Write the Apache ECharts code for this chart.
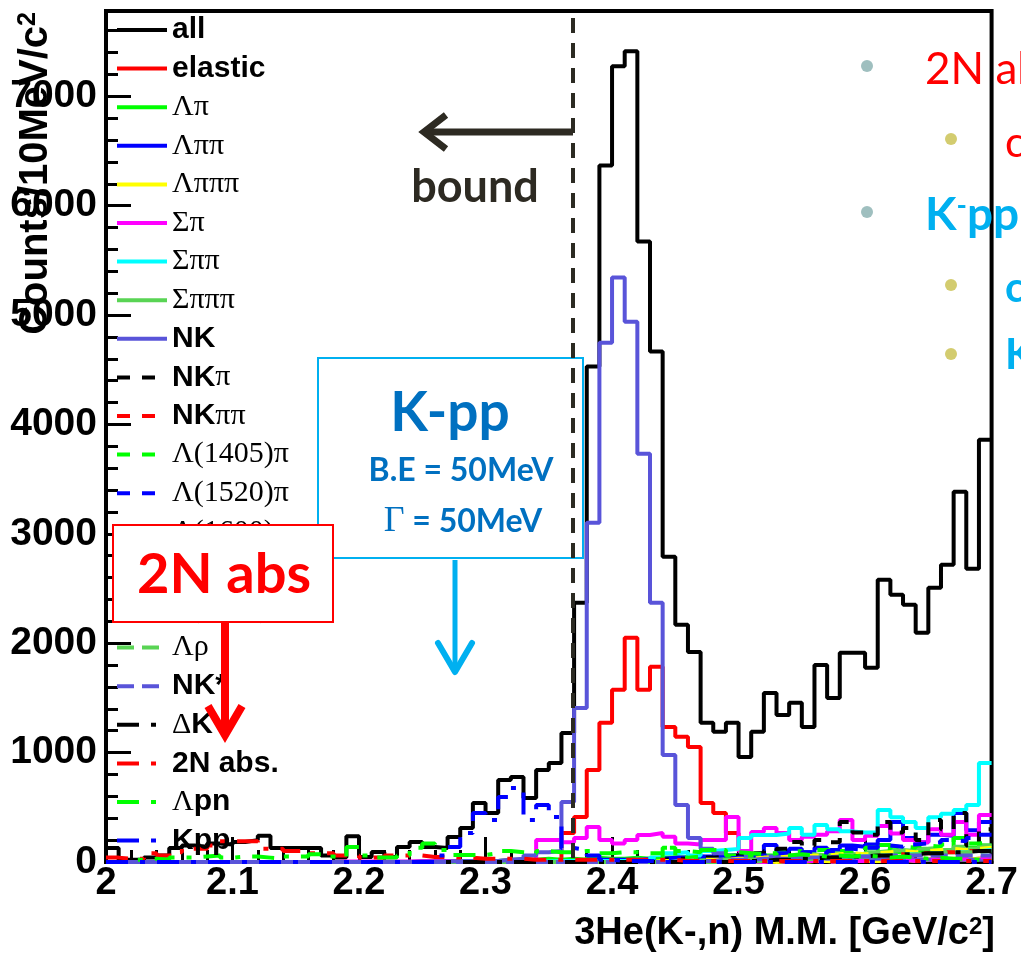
<!DOCTYPE html>
<html>
<head>
<meta charset="utf-8">
<title>3He(K-,n) M.M.</title>
<style>
  html, body { margin: 0; padding: 0; background: #fff; }
  #chart { width: 1021px; height: 956px; }
</style>
</head>
<body>
<div id="chart"></div>
<script src="https://cdn.jsdelivr.net/npm/echarts@6/dist/echarts.min.js"></script>
<script>
// 70 bins of 10 MeV between 2.00 and 2.70 GeV/c2
var binLow = 2.0, binWidth = 0.01, nBins = 70;
var xTicks = [2, 2.1, 2.2, 2.3, 2.4, 2.5, 2.6, 2.7];
var yTicks = [0, 1000, 2000, 3000, 4000, 5000, 6000, 7000];

var all = [
  128, 20, 20, 40, 60, 128, 150, 140, 170, 160,
  183, 200, 240, 128, 128, 128, 128, 60, 40, 235,
  46, 91, 46, 137, 183, 137, 128, 229, 311, 540,
  448, 750, 778, 586, 842, 906, 1180, 2370, 4530, 6368,
  7274, 7411, 5672, 4666, 2790, 2168, 1921, 1272, 1190, 1272,
  961, 1190, 1546, 1345, 1455, 1235, 1802, 1500, 1912, 1912,
  1775, 2580, 2443, 2351, 2095, 2507, 2717, 3385, 2680, 3860];
var elastic = [
  0, 0, 0, 0, 0, 0, 0, 0, 0, 0,
  0, 0, 0, 0, 0, 0, 0, 0, 0, 0,
  0, 0, 0, 0, 0, 0, 0, 0, 0, 0,
  0, 0, 0, 0, 10, 20, 265, 412, 842, 1272,
  1574, 2049, 1574, 1784, 1235, 1144, 1052, 540, 448, 265,
  100, 60, 40, 30, 30, 20, 20, 30, 20, 20,
  20, 20, 30, 20, 20, 30, 20, 20, 30, 20];
var lambdaPi = [
  0, 0, 0, 0, 0, 0, 0, 0, 0, 0,
  0, 0, 0, 0, 0, 0, 0, 0, 0, 0,
  0, 0, 0, 0, 0, 0, 0, 0, 10, 10,
  10, 20, 20, 20, 30, 20, 30, 20, 40, 30,
  30, 40, 30, 40, 40, 40, 50, 40, 60, 40,
  50, 40, 60, 50, 60, 70, 50, 80, 60, 70,
  80, 155, 90, 80, 100, 120, 90, 220, 130, 150];
var lambdaPiPi = [
  0, 0, 0, 0, 0, 0, 0, 0, 0, 0,
  0, 0, 0, 0, 0, 0, 0, 0, 0, 0,
  0, 0, 0, 0, 0, 0, 0, 0, 0, 0,
  0, 0, 0, 0, 0, 0, 10, 10, 20, 20,
  20, 20, 30, 30, 40, 40, 50, 50, 60, 60,
  70, 80, 155, 100, 120, 90, 130, 110, 150, 140,
  160, 200, 366, 220, 180, 250, 240, 448, 290, 366];
var lambdaPiPiPi = [
  0, 0, 0, 0, 0, 0, 0, 0, 0, 0,
  0, 0, 0, 0, 0, 0, 0, 0, 0, 0,
  0, 0, 0, 0, 0, 0, 0, 0, 0, 0,
  0, 0, 0, 0, 0, 0, 0, 0, 0, 0,
  0, 0, 0, 0, 0, 0, 0, 0, 0, 0,
  0, 10, 0, 10, 0, 10, 10, 0, 10, 10,
  10, 10, 20, 10, 20, 20, 30, 20, 30, 40];
var sigmaPi = [
  0, 0, 0, 0, 0, 0, 0, 0, 0, 0,
  0, 0, 0, 0, 0, 0, 0, 0, 5, 5,
  5, 5, 5, 5, 10, 10, 10, 10, 10, 10,
  10, 15, 15, 10, 200, 200, 180, 220, 320, 200,
  170, 200, 247, 265, 230, 170, 160, 200, 200, 412,
  100, 275, 311, 265, 200, 230, 250, 280, 384, 200,
  240, 330, 260, 200, 180, 300, 250, 366, 250, 430];
var sigmaPiPi = [
  0, 0, 0, 0, 0, 0, 0, 0, 0, 0,
  0, 0, 0, 0, 0, 0, 0, 0, 0, 0,
  0, 0, 0, 0, 0, 0, 0, 0, 5, 5,
  5, 5, 5, 5, 5, 10, 10, 10, 10, 10,
  10, 20, 20, 40, 80, 90, 60, 100, 110, 120,
  220, 247, 247, 260, 311, 250, 338, 300, 280, 270,
  270, 475, 410, 366, 311, 410, 440, 475, 521, 906];
var sigmaPiPiPi = [
  0, 0, 0, 0, 0, 0, 0, 0, 0, 0,
  0, 0, 0, 0, 0, 0, 0, 0, 0, 0,
  0, 0, 0, 0, 0, 0, 0, 0, 0, 0,
  0, 0, 0, 0, 0, 0, 0, 0, 0, 0,
  0, 0, 0, 0, 0, 10, 10, 20, 20, 30,
  30, 40, 40, 60, 50, 70, 60, 80, 90, 70,
  90, 100, 110, 100, 120, 130, 110, 140, 120, 150];
var nk = [
  0, 0, 0, 0, 0, 0, 0, 0, 0, 0,
  0, 0, 0, 0, 0, 0, 0, 0, 0, 0,
  0, 0, 0, 0, 5, 5, 5, 10, 10, 10,
  10, 20, 30, 60, 90, 100, 549, 1409, 3102, 4748,
  5343, 4940, 3733, 2370, 979, 521, 220, 120, 80, 60,
  60, 50, 50, 40, 40, 40, 30, 30, 30, 30,
  30, 30, 30, 20, 20, 20, 20, 20, 20, 20];
var nkPi = [
  0, 0, 0, 0, 0, 0, 0, 0, 0, 0,
  0, 0, 0, 0, 0, 0, 0, 0, 0, 0,
  0, 0, 0, 0, 0, 0, 0, 0, 0, 0,
  0, 0, 0, 0, 0, 0, 0, 0, 0, 0,
  10, 10, 20, 20, 30, 30, 40, 40, 50, 60,
  60, 80, 100, 120, 183, 150, 200, 180, 366, 270,
  250, 366, 270, 311, 200, 384, 300, 448, 150, 300];
var nkPiPi = [
  0, 0, 0, 0, 0, 0, 0, 0, 0, 0,
  0, 0, 0, 0, 0, 0, 0, 0, 0, 0,
  0, 0, 0, 0, 0, 0, 0, 0, 0, 0,
  0, 0, 0, 0, 0, 0, 0, 0, 0, 0,
  0, 0, 0, 0, 0, 0, 0, 0, 0, 0,
  10, 10, 20, 20, 30, 20, 30, 40, 50, 40,
  60, 50, 70, 60, 80, 70, 90, 80, 100, 90];
var l1405Pi = [
  0, 0, 0, 0, 0, 0, 0, 0, 0, 0,
  0, 0, 0, 0, 0, 0, 0, 0, 0, 0,
  0, 0, 0, 0, 0, 0, 0, 0, 0, 0,
  0, 0, 0, 0, 0, 0, 0, 0, 0, 0,
  10, 20, 20, 30, 130, 40, 50, 110, 110, 60,
  60, 70, 80, 90, 100, 80, 110, 120, 100, 110,
  130, 120, 140, 130, 150, 140, 160, 220, 170, 180];
var l1520Pi = [
  0, 0, 0, 0, 0, 0, 0, 0, 0, 0,
  0, 0, 0, 0, 0, 0, 0, 0, 0, 0,
  0, 0, 0, 0, 0, 0, 0, 0, 0, 0,
  0, 0, 0, 0, 0, 0, 0, 0, 0, 0,
  0, 0, 0, 0, 0, 10, 20, 20, 30, 40,
  40, 60, 60, 80, 70, 90, 80, 100, 120, 110,
  130, 150, 140, 160, 170, 180, 200, 190, 220, 250];
var s1385Pi = [
  0, 0, 0, 0, 0, 0, 0, 0, 0, 0,
  0, 0, 0, 0, 0, 0, 0, 0, 0, 0,
  0, 0, 0, 0, 0, 0, 0, 0, 0, 0,
  0, 0, 0, 0, 0, 0, 0, 0, 0, 0,
  0, 0, 0, 0, 0, 0, 0, 0, 0, 0,
  0, 0, 10, 0, 10, 10, 0, 10, 10, 10,
  10, 10, 20, 10, 20, 20, 30, 30, 40, 50];
var l1600Pi = [
  0, 0, 0, 0, 0, 0, 0, 0, 0, 0,
  0, 0, 0, 0, 0, 0, 0, 0, 0, 0,
  0, 0, 0, 0, 0, 0, 0, 0, 0, 0,
  0, 0, 0, 0, 0, 0, 0, 0, 0, 0,
  0, 0, 0, 10, 10, 10, 20, 20, 20, 30,
  30, 40, 40, 50, 50, 60, 60, 70, 80, 70,
  80, 90, 100, 90, 100, 110, 120, 110, 120, 130];
var s1660Pi = [
  0, 0, 0, 0, 0, 0, 0, 0, 0, 0,
  0, 0, 0, 0, 0, 0, 0, 0, 0, 0,
  0, 0, 0, 0, 0, 0, 0, 0, 0, 0,
  0, 0, 0, 0, 0, 0, 0, 0, 0, 0,
  0, 0, 0, 0, 0, 0, 0, 0, 0, 0,
  10, 10, 20, 20, 30, 30, 40, 40, 50, 50,
  60, 60, 70, 70, 80, 80, 90, 90, 100, 110];
var lambdaRho = [
  0, 0, 0, 0, 0, 0, 0, 0, 0, 0,
  0, 0, 0, 0, 0, 0, 0, 0, 0, 0,
  0, 0, 0, 0, 0, 0, 0, 0, 0, 0,
  0, 0, 0, 0, 0, 0, 0, 0, 0, 0,
  0, 0, 0, 0, 0, 0, 0, 0, 0, 0,
  0, 10, 10, 20, 20, 30, 30, 40, 40, 50,
  50, 60, 60, 70, 70, 80, 80, 90, 90, 100];
var nkStar = [
  0, 0, 0, 0, 0, 0, 0, 0, 0, 0,
  0, 0, 0, 0, 0, 0, 0, 0, 0, 0,
  0, 0, 0, 0, 0, 0, 0, 0, 0, 0,
  0, 0, 0, 0, 0, 0, 0, 0, 0, 0,
  0, 0, 0, 0, 0, 10, 10, 10, 20, 20,
  20, 30, 30, 30, 40, 40, 40, 50, 50, 50,
  50, 60, 60, 60, 60, 60, 60, 60, 60, 60];
var deltaK = [
  0, 0, 0, 0, 0, 0, 0, 0, 0, 0,
  0, 0, 0, 0, 0, 0, 0, 0, 0, 0,
  0, 0, 0, 0, 0, 0, 0, 0, 0, 0,
  0, 0, 0, 0, 0, 0, 0, 0, 0, 0,
  0, 0, 0, 0, 0, 0, 0, 0, 0, 0,
  10, 10, 20, 20, 30, 30, 40, 40, 50, 50,
  60, 60, 70, 70, 80, 80, 90, 90, 100, 100];
var twoNAbs = [
  40, 30, 30, 80, 60, 90, 120, 120, 150, 190,
  190, 190, 120, 120, 100, 100, 80, 80, 60, 60,
  40, 40, 60, 60, 60, 46, 46, 40, 40, 30,
  30, 30, 30, 20, 20, 20, 20, 20, 20, 20,
  20, 20, 20, 20, 20, 10, 10, 10, 10, 10,
  10, 10, 10, 10, 10, 10, 10, 10, 10, 10,
  10, 10, 10, 10, 10, 10, 10, 10, 10, 10];
var lambdaPN = [
  0, 0, 20, 30, 20, 40, 40, 50, 60, 40,
  50, 50, 40, 30, 50, 50, 70, 50, 40, 137,
  60, 40, 40, 60, 130, 170, 110, 64, 64, 64,
  80, 100, 90, 80, 100, 90, 90, 100, 100, 80,
  90, 90, 80, 80, 130, 100, 90, 110, 110, 90,
  80, 70, 80, 60, 70, 60, 50, 60, 50, 60,
  50, 40, 50, 40, 30, 40, 30, 30, 20, 20];
var kpp = [
  0, 0, 0, 0, 0, 0, 0, 0, 0, 0,
  0, 0, 0, 0, 0, 0, 0, 0, 0, 0,
  0, 0, 0, 0, 0, 0, 60, 137, 265, 448,
  384, 595, 677, 384, 521, 412, 128, 110, 60, 20,
  10, 10, 10, 0, 0, 0, 0, 0, 0, 0,
  0, 0, 0, 0, 0, 0, 0, 0, 0, 0,
  0, 0, 0, 0, 0, 0, 0, 0, 0, 0];

var solid = 'solid', dash = [13, 12], longDash = [17, 8], dashDot = [22, 12, 5, 12];
var hists = [
  ['all', all, '#000000', solid],
  ['elastic', elastic, '#ff0000', solid],
  ['Λπ', lambdaPi, '#00ff00', solid],
  ['Λππ', lambdaPiPi, '#0000ff', solid],
  ['Λπππ', lambdaPiPiPi, '#ffff00', solid],
  ['Σπ', sigmaPi, '#ff00ff', solid],
  ['Σππ', sigmaPiPi, '#00ffff', solid],
  ['Σπππ', sigmaPiPiPi, '#59d454', solid],
  ['NK', nk, '#5954d9', solid],
  ['NKπ', nkPi, '#000000', dash],
  ['NKππ', nkPiPi, '#ff0000', dash],
  ['Λ(1405)π', l1405Pi, '#00ff00', dash],
  ['Λ(1520)π', l1520Pi, '#0000ff', dash],
  ['Λ(1600)π', l1600Pi, '#ffff00', dash],
  ['Σ(1385)π', s1385Pi, '#ff00ff', dash],
  ['Σ(1660)π', s1660Pi, '#00ffff', dash],
  ['Λρ', lambdaRho, '#59d454', longDash],
  ['NK*', nkStar, '#5954d9', longDash],
  ['ΔK', deltaK, '#000000', dashDot],
  ['2N abs.', twoNAbs, '#ff0000', dashDot],
  ['Λpn', lambdaPN, '#00ff00', dashDot],
  ['Kpp', kpp, '#0000ff', dashDot]
];

var edges = [];
for (var i = 0; i <= nBins; i++) edges.push(+(binLow + i * binWidth).toFixed(2));

function histPoints(values) {
  var pts = values.map(function (v, k) { return [edges[k], v]; });
  pts.push([edges[nBins], values[nBins - 1]]);
  return pts;
}

// greek letters and masses in serif, the rest in bold sans (like the ROOT legend)
function richName(name) {
  return name.split(/([ΛΣΔπρ]|\(\d+\))/).filter(Boolean).map(function (p) {
    return /^([ΛΣΔπρ]|\(\d+\))$/.test(p) ? '{g|' + p + '}' : '{s|' + p + '}';
  }).join('');
}

var series = hists.map(function (h) {
  return {
    name: h[0],
    type: 'line',
    step: 'end',
    symbol: 'none',
    data: histPoints(h[1]),
    lineStyle: { color: h[2], width: 4, type: h[3] },
    itemStyle: { color: h[2] }
  };
});

var lato = '"Lato", "Open Sans", sans-serif';
var helv = '"Liberation Sans", Arial, sans-serif';

var chart = echarts.init(document.getElementById('chart'));
chart.setOption({
  animation: false,
  backgroundColor: '#ffffff',
  grid: { left: 106, right: 24, top: 11, bottom: 94, show: true, borderColor: '#000', borderWidth: 4 },
  xAxis: {
    type: 'value', min: xTicks[0], max: xTicks[xTicks.length - 1], interval: 0.1,
    axisLine: { lineStyle: { color: '#000', width: 4 } },
    axisTick: { inside: true, length: 25, lineStyle: { color: '#000', width: 3 } },
    minorTick: { show: true, splitNumber: 5, length: 12, lineStyle: { color: '#000', width: 3 } },
    splitLine: { show: false },
    axisLabel: { color: '#000', fontSize: 38, fontWeight: 'bold', fontFamily: helv, margin: 3 }
  },
  yAxis: {
    type: 'value', min: yTicks[0], max: 7780, interval: 1000,
    axisLine: { show: true, lineStyle: { color: '#000', width: 4 } },
    axisTick: { show: true, inside: true, length: 25, lineStyle: { color: '#000', width: 3 } },
    minorTick: { show: true, splitNumber: 5, length: 12, lineStyle: { color: '#000', width: 3 } },
    splitLine: { show: false },
    axisLabel: {
      color: '#000', fontSize: 39, fontWeight: 'bold', fontFamily: helv, margin: 9, showMaxLabel: false,
      formatter: function (v) { return String(v); }
    }
  },
  legend: {
    orient: 'vertical', left: 115, top: 15, padding: 0,
    itemWidth: 50, itemHeight: 14, itemGap: 8.6,
    selectedMode: false,
    itemStyle: { opacity: 0, borderWidth: 0 },
    lineStyle: { width: 4 },
    data: hists.map(function (h) { return h[0]; }),
    formatter: richName,
    textStyle: {
      color: '#000',
      rich: {
        s: { fontFamily: helv, fontWeight: 'bold', fontSize: 30, lineHeight: 30, color: '#000' },
        g: { fontFamily: '"Liberation Serif", serif', fontSize: 30, lineHeight: 30, color: '#000' }
      }
    }
  },
  series: series,
  graphic: [
    // K-pp box
    { type: 'rect', z: 100, shape: { x: 318, y: 358, width: 265, height: 200 },
      style: { fill: '#fff', stroke: '#00b0f0', lineWidth: 2 } },
    { type: 'text', z: 101, x: 450, y: 413,
      style: { text: 'K-pp', font: 'bold 55px ' + lato, fill: '#0070c0', textAlign: 'center', textVerticalAlign: 'middle' } },
    { type: 'text', z: 101, x: 461, y: 471,
      style: { text: 'B.E = 50MeV', font: 'bold 32px ' + lato, fill: '#0070c0', textAlign: 'center', textVerticalAlign: 'middle' } },
    { type: 'text', z: 101, x: 463, y: 522,
      style: { text: '{g|Γ} = 50MeV', font: 'bold 32px ' + lato, fill: '#0070c0', textAlign: 'center', textVerticalAlign: 'middle',
        rich: { g: { fontFamily: '"Liberation Serif", serif', fontSize: 36, fill: '#0070c0' } } } },
    { type: 'line', z: 101, shape: { x1: 455, y1: 560, x2: 455, y2: 672 },
      style: { stroke: '#00b0f0', lineWidth: 5 } },
    { type: 'polyline', z: 101, shape: { points: [[438, 643], [455, 672], [472, 643]] },
      style: { stroke: '#00b0f0', lineWidth: 6, fill: null, lineCap: 'round', lineJoin: 'round' } },
    // threshold line and "bound" arrow
    { type: 'line', z: 110, shape: { x1: 573, y1: 18, x2: 573, y2: 862 },
      style: { stroke: '#2b2a22', lineWidth: 4, lineDash: [15, 10] } },
    { type: 'line', z: 110, shape: { x1: 573, y1: 132, x2: 426, y2: 132 },
      style: { stroke: '#2d2a22', lineWidth: 7 } },
    { type: 'polyline', z: 110, shape: { points: [[446, 115], [424, 132], [446, 149]] },
      style: { stroke: '#2d2a22', lineWidth: 7, fill: null, lineJoin: 'miter' } },
    { type: 'text', z: 110, x: 475, y: 187,
      style: { text: 'bound', font: 'bold 45px ' + lato, fill: '#2d2a22', textAlign: 'center', textVerticalAlign: 'middle' } },
    // 2N abs box
    { type: 'rect', z: 100, shape: { x: 113, y: 525, width: 220, height: 97 },
      style: { fill: '#fff', stroke: '#ff0000', lineWidth: 2 } },
    { type: 'text', z: 101, x: 224, y: 575,
      style: { text: '2N abs', font: 'bold 56px ' + lato, fill: '#ff0000', textAlign: 'center', textVerticalAlign: 'middle' } },
    { type: 'line', z: 101, shape: { x1: 225, y1: 622, x2: 225, y2: 733 },
      style: { stroke: '#ff0000', lineWidth: 8 } },
    { type: 'polyline', z: 101, shape: { points: [[208, 706], [225, 735], [242, 706]] },
      style: { stroke: '#ff0000', lineWidth: 8, fill: null, lineJoin: 'miter' } },
    // slide bullets on the right
    { type: 'circle', z: 100, shape: { cx: 867, cy: 66, r: 6 }, style: { fill: '#9fbfbf' } },
    { type: 'text', z: 100, x: 925, y: 70,
      style: { text: '2N abs.', font: '44px ' + lato, fill: '#ff0000', textAlign: 'left', textVerticalAlign: 'middle' } },
    { type: 'circle', z: 100, shape: { cx: 951, cy: 139, r: 6 }, style: { fill: '#d3cc6f' } },
    { type: 'text', z: 100, x: 1005, y: 143,
      style: { text: 'cross section', font: '42px ' + lato, fill: '#ff0000', textAlign: 'left', textVerticalAlign: 'middle' } },
    { type: 'circle', z: 100, shape: { cx: 867, cy: 212, r: 6 }, style: { fill: '#9fbfbf' } },
    { type: 'text', z: 100, x: 925, y: 215,
      style: { text: 'K{sup|-}pp', font: 'bold 46px ' + lato, fill: '#00b0f0', textAlign: 'left', textVerticalAlign: 'middle',
        rich: { sup: { fontSize: 28, fontWeight: 'bold', fontFamily: lato, fill: '#00b0f0', verticalAlign: 'top' } } } },
    { type: 'circle', z: 100, shape: { cx: 951, cy: 285, r: 6 }, style: { fill: '#d3cc6f' } },
    { type: 'text', z: 100, x: 1005, y: 288,
      style: { text: 'cross section', font: 'bold 42px ' + lato, fill: '#00b0f0', textAlign: 'left', textVerticalAlign: 'middle' } },
    { type: 'circle', z: 100, shape: { cx: 951, cy: 354, r: 6 }, style: { fill: '#d3cc6f' } },
    { type: 'text', z: 100, x: 1005, y: 355,
      style: { text: 'K-pp', font: 'bold 42px ' + lato, fill: '#00b0f0', textAlign: 'left', textVerticalAlign: 'middle' } },
    // axis titles
    { type: 'text', z: 50, x: 36, y: 12, rotation: Math.PI / 2,
      style: { text: 'Counts/10MeV/c{sup|2}', font: 'bold 40px ' + helv, fill: '#000', textAlign: 'right', textVerticalAlign: 'middle',
        rich: { sup: { fontSize: 25, fontWeight: 'bold', fontFamily: helv, fill: '#000', verticalAlign: 'top' } } } },
    { type: 'text', z: 50, x: 995, y: 934,
      style: { text: '3He(K-,n) M.M. [GeV/c{sup|2}]', font: 'bold 38px ' + helv, fill: '#000', textAlign: 'right', textVerticalAlign: 'middle',
        rich: { sup: { fontSize: 24, fontWeight: 'bold', fontFamily: helv, fill: '#000', verticalAlign: 'top' } } } }
  ]
});
</script>
</body>
</html>
